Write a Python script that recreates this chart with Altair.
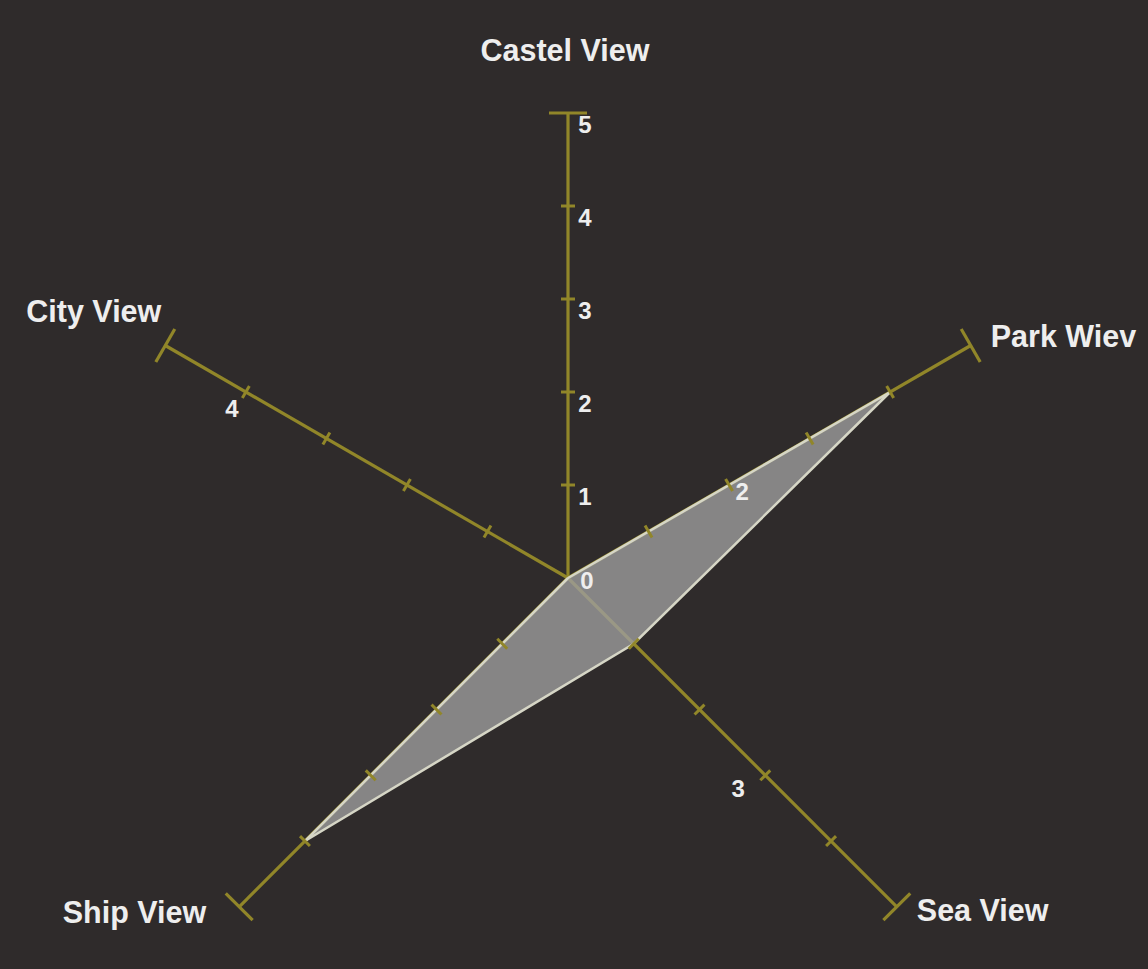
import math

import altair as alt
import pandas as pd

# ---- data -------------------------------------------------------------
categories = ["Castel View", "Park Wiev", "Sea View", "Ship View", "City View"]
angles_deg = [0, 60, 135, 225, 300]          # clockwise from straight up
values = [0, 4, 1, 4, 0]
max_value = 5
tick_steps = [1, 2, 3, 4]

# scale numbers printed along the spokes
tick_label_axis = ["Castel View"] * 6 + ["Park Wiev", "Sea View", "City View"]
tick_label_value = [0, 1, 2, 3, 4, 5, 2, 3, 4]

# ---- layout / style ---------------------------------------------------
W, H = 1148, 969
CX, CY = 568, 578          # pixel position of the centre
UNIT = 93                  # pixels per unit of value
BG = "#2f2b2b"
AXIS_COLOR = "#918629"
TEXT_COLOR = "#eeeeee"
FONT = "Liberation Sans"

angle_of = dict(zip(categories, angles_deg))


def polar(angle, r):
    a = math.radians(angle)
    return r * math.sin(a), r * math.cos(a)


xs = alt.Scale(domain=[-CX / UNIT, (W - CX) / UNIT], nice=False, zero=False)
ys = alt.Scale(domain=[-(H - CY) / UNIT, CY / UNIT], nice=False, zero=False)


def seg_enc():
    return dict(
        x=alt.X("x:Q", scale=xs, axis=None),
        y=alt.Y("y:Q", scale=ys, axis=None),
        x2="x2:Q",
        y2="y2:Q",
    )


# spokes
spoke_rows = []
for c in categories:
    ex, ey = polar(angle_of[c], max_value)
    spoke_rows.append(dict(cat=c, x=0, y=0, x2=ex, y2=ey))
spokes = alt.Chart(pd.DataFrame(spoke_rows)).mark_rule(
    color=AXIS_COLOR, strokeWidth=3.2
).encode(**seg_enc())


# perpendicular tick marks and end caps
def cross_rows(steps, half_px):
    rows = []
    h = half_px / UNIT
    for c in categories:
        a = math.radians(angle_of[c])
        px, py = math.cos(a), -math.sin(a)
        for s in steps:
            cx, cy = polar(angle_of[c], s)
            rows.append(dict(cat=c, x=cx - h * px, y=cy - h * py,
                             x2=cx + h * px, y2=cy + h * py))
    return pd.DataFrame(rows)


ticks = alt.Chart(cross_rows(tick_steps, 7)).mark_rule(
    color=AXIS_COLOR, strokeWidth=3
).encode(**seg_enc())
caps = alt.Chart(cross_rows([max_value], 19)).mark_rule(
    color=AXIS_COLOR, strokeWidth=3.2
).encode(**seg_enc())

# data polygon
poly_rows = []
for i, (c, v) in enumerate(zip(categories + categories[:1], values + values[:1])):
    px, py = polar(angle_of[c], v)
    poly_rows.append(dict(order=i, cat=c, value=v, x=px, y=py))
polygon = alt.Chart(pd.DataFrame(poly_rows)).mark_line(
    fill="#9c9c9c", fillOpacity=0.8, stroke="#d6d6c6", strokeWidth=2.5,
    strokeJoin="miter",
).encode(
    x=alt.X("x:Q", scale=xs, axis=None),
    y=alt.Y("y:Q", scale=ys, axis=None),
    order="order:Q",
)

# category labels at the spoke ends
cat_style = {
    "Castel View": dict(align="center", dx=-3, dy=-61),
    "Park Wiev": dict(align="left", dx=20, dy=-8),
    "Sea View": dict(align="left", dx=20, dy=5),
    "Ship View": dict(align="right", dx=-33, dy=7),
    "City View": dict(align="right", dx=-4, dy=-33),
}
cat_layers = []
for c in categories:
    ex, ey = polar(angle_of[c], max_value)
    cat_layers.append(
        alt.Chart(pd.DataFrame([dict(label=c, x=ex, y=ey)])).mark_text(
            font=FONT, fontSize=30.5, fontWeight="bold", color=TEXT_COLOR,
            baseline="middle", **cat_style[c],
        ).encode(
            x=alt.X("x:Q", scale=xs, axis=None),
            y=alt.Y("y:Q", scale=ys, axis=None),
            text="label:N",
        )
    )

# scale numbers next to the ticks
num_offset = {
    "Castel View": (17, 13),
    "Park Wiev": (13, 8),
    "Sea View": (-27, 15),
    "City View": (-14, 18),
}
num_layers = []
for c, v in zip(tick_label_axis, tick_label_value):
    px, py = polar(angle_of[c], v)
    dx, dy = num_offset[c]
    if v == 0:
        dx, dy = 19, 4
    num_layers.append(
        alt.Chart(pd.DataFrame([dict(label=str(v), x=px, y=py)])).mark_text(
            font=FONT, fontSize=24, fontWeight="bold", color=TEXT_COLOR,
            align="center", baseline="middle", dx=dx, dy=dy,
        ).encode(
            x=alt.X("x:Q", scale=xs, axis=None),
            y=alt.Y("y:Q", scale=ys, axis=None),
            text="label:N",
        )
    )

chart = alt.layer(
    spokes, polygon, ticks, caps, *cat_layers, *num_layers
).properties(
    width=W, height=H, padding=0, autosize="none", background=BG
).configure_view(stroke=None)

chart.save("out.html", embed_options={"renderer": "svg", "actions": False})
